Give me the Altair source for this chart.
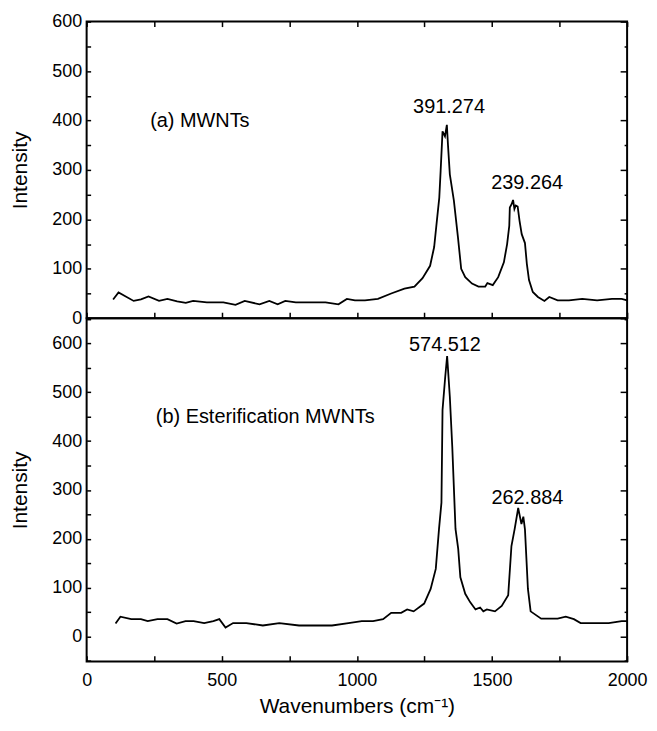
import altair as alt
import pandas as pd

# ---------------- data ----------------
wn_a = [98, 118, 174, 201, 229, 268, 299, 335, 367, 394, 445, 506, 551, 585, 640,
        676, 707, 735, 774, 884, 932, 963, 993, 1030, 1078, 1127, 1176, 1213, 1243,
        1271, 1286, 1296, 1305, 1310, 1317, 1326, 1333, 1337, 1344, 1359, 1374, 1386,
        1401, 1426, 1450, 1475, 1483, 1503, 1523, 1544, 1556, 1564, 1566, 1573, 1578,
        1583, 1588, 1595, 1602, 1610, 1622, 1629, 1637, 1651, 1670, 1694, 1712, 1743,
        1785, 1834, 1889, 1944, 1980, 2000]
int_a = [38, 52, 35, 38, 44, 35, 39, 34, 31, 35, 32, 32, 27, 35, 28,
         35, 28, 35, 32, 32, 28, 39, 36, 36, 39, 50, 60, 64, 81,
         106, 144, 197, 244, 298, 378, 368, 391.274, 352, 291, 238, 164, 100,
         83, 70, 64, 64, 71, 67, 83, 113, 150, 187, 224, 231, 239.264,
         221, 228, 226, 197, 170, 152, 110, 77, 53, 43, 35, 43, 36,
         36, 39, 36, 39, 39, 36]

wn_b = [107, 125, 165, 201, 226, 262, 299, 333, 366, 396, 435, 469, 491, 514, 542,
        591, 652, 713, 786, 908, 969, 1018, 1060, 1097, 1127, 1164, 1186, 1210, 1249,
        1273, 1292, 1304, 1313, 1317, 1327, 1334, 1344, 1353, 1365, 1375, 1383, 1401,
        1419, 1439, 1456, 1468, 1481, 1511, 1536, 1560, 1572, 1584, 1597, 1609, 1616,
        1622, 1633, 1643, 1682, 1743, 1773, 1803, 1828, 1932, 1956, 1980, 2000]
int_b = [26, 40, 35, 35, 31, 35, 35, 26, 31, 31, 27, 31, 35, 18, 27,
         27, 22, 27, 22, 22, 27, 31, 31, 35, 48, 48, 55, 51, 67,
         97, 138, 220, 274, 464, 532, 574.512, 491, 389, 220, 179, 121, 87,
         70, 55, 59, 51, 55, 51, 62, 84, 185, 220, 262.884, 230, 245,
         219, 97, 51, 36, 36, 40, 35, 27, 27, 29, 31, 31]

x_label_values = [0, 500, 1000, 1500, 2000]
x_tick_values = [0, 250, 500, 750, 1000, 1250, 1500, 1750, 2000]
y_label_values = [0, 100, 200, 300, 400, 500, 600]

note_a = "(a) MWNTs"
note_b = "(b) Esterification MWNTs"
note_a_xy = [235, 398]
note_b_xy = [256, 450]
peak_windows = [[1200, 1450], [1450, 1750]]
peak_label_xy_a = [[1341, 427], [1630, 274]]
peak_label_xy_b = [[1326, 596], [1631, 284]]

y_domain_a = [0, 600]
y_domain_b = [-52, 652]

FONT = "Liberation Sans"
W = 543


def panel(wn, inten, ydom, h, peak_xy, note, note_xy, bottom):
    df = pd.DataFrame({"wn": wn, "inten": inten})
    xs = alt.Scale(domain=[0, 2000], nice=False, zero=False)
    ys = alt.Scale(domain=ydom, nice=False, zero=False)
    lo, hi = ydom
    yt_all = [v for v in range(-50, 701, 50) if lo <= v <= hi]
    yt_major = [v for v in yt_all if v % 100 == 0]
    yt_minor = [v for v in yt_all if v % 100 != 0]

    if bottom:
        x_main_axis = alt.Axis(orient="bottom", values=x_label_values, format="d",
                               ticks=False, tickSize=0, domain=False, labelPadding=10,
                               labelFlush=False, labelOverlap=False, grid=False,
                               title="Wavenumbers (cm\u207b\u00b9)", titlePadding=6)
    else:
        x_main_axis = None

    line = alt.Chart(df).mark_line(color="black", strokeWidth=1.8).encode(
        x=alt.X("wn:Q", scale=xs, axis=x_main_axis),
        y=alt.Y("inten:Q", scale=ys,
                axis=alt.Axis(orient="left", values=y_label_values, format="d",
                              ticks=False, tickSize=0, domain=False, labelPadding=5,
                              labelFlush=False, labelOverlap=False, grid=False,
                              title="Intensity", titlePadding=21)),
    )

    def tick_axis(orient, offset, values, size):
        return alt.Axis(orient=orient, offset=offset, values=values, labels=False,
                        domain=False, grid=False, tickSize=size, title=None)

    # inward ticks: bottom edge (x) and left edge (y)
    t1 = alt.Chart(df).mark_line(opacity=0).encode(
        x=alt.X("wn:Q", scale=xs, axis=tick_axis("top", -h, x_tick_values, 6)),
        y=alt.Y("inten:Q", scale=ys, axis=tick_axis("right", -W, yt_all, 4)),
    )
    # inward ticks: top edge (x, top panel only) and right edge major (y)
    t2 = alt.Chart(df).mark_line(opacity=0).encode(
        x=alt.X("wn:Q", scale=xs,
                axis=None if bottom else tick_axis("bottom", -h, x_tick_values, 5)),
        y=alt.Y("inten:Q", scale=ys, axis=tick_axis("left", -W, yt_major, 7)),
    )
    # inward ticks: right edge minor (y)
    t3 = alt.Chart(df).mark_line(opacity=0).encode(
        x=alt.X("wn:Q", scale=xs, axis=None),
        y=alt.Y("inten:Q", scale=ys, axis=tick_axis("left", -W, yt_minor, 3)),
    )

    # peak value labels
    peaks = []
    for (a, b), (lx, ly) in zip(peak_windows, peak_xy):
        sub = df[(df.wn >= a) & (df.wn <= b)]
        pv = sub.inten.max()
        peaks.append({"x": lx, "y": ly, "t": f"{pv:.3f}"})
    pk = alt.Chart(pd.DataFrame(peaks)).mark_text(
        font=FONT, fontSize=20, color="black", align="center", baseline="middle"
    ).encode(
        x=alt.X("x:Q", scale=xs, axis=None),
        y=alt.Y("y:Q", scale=ys, axis=None),
        text="t:N",
    )
    nt = alt.Chart(pd.DataFrame([{"x": note_xy[0], "y": note_xy[1], "t": note}])).mark_text(
        font=FONT, fontSize=20, color="black", align="left", baseline="middle"
    ).encode(
        x=alt.X("x:Q", scale=xs, axis=None),
        y=alt.Y("y:Q", scale=ys, axis=None),
        text="t:N",
    )

    return alt.layer(line, t1, t2, t3, pk, nt).resolve_axis(
        x="independent", y="independent"
    ).properties(width=W, height=h)


top = panel(wn_a, int_a, y_domain_a, 298, peak_label_xy_a, note_a, note_a_xy, False)
bot = panel(wn_b, int_b, y_domain_b, 345, peak_label_xy_b, note_b, note_b_xy, True)

chart = alt.vconcat(top, bot, spacing=0, bounds="flush").properties(
    padding={"left": 0, "top": 2, "right": 0, "bottom": 0},
    background="white",
).configure_view(
    stroke="black", strokeWidth=2
).configure_axis(
    grid=False,
    labelFont=FONT, labelFontSize=18, labelColor="black",
    titleFont=FONT, titleFontSize=21, titleFontWeight="normal", titleColor="black",
    tickColor="black", tickWidth=1.5,
)

chart.save("out.html", embed_options={"renderer": "svg", "actions": False})
